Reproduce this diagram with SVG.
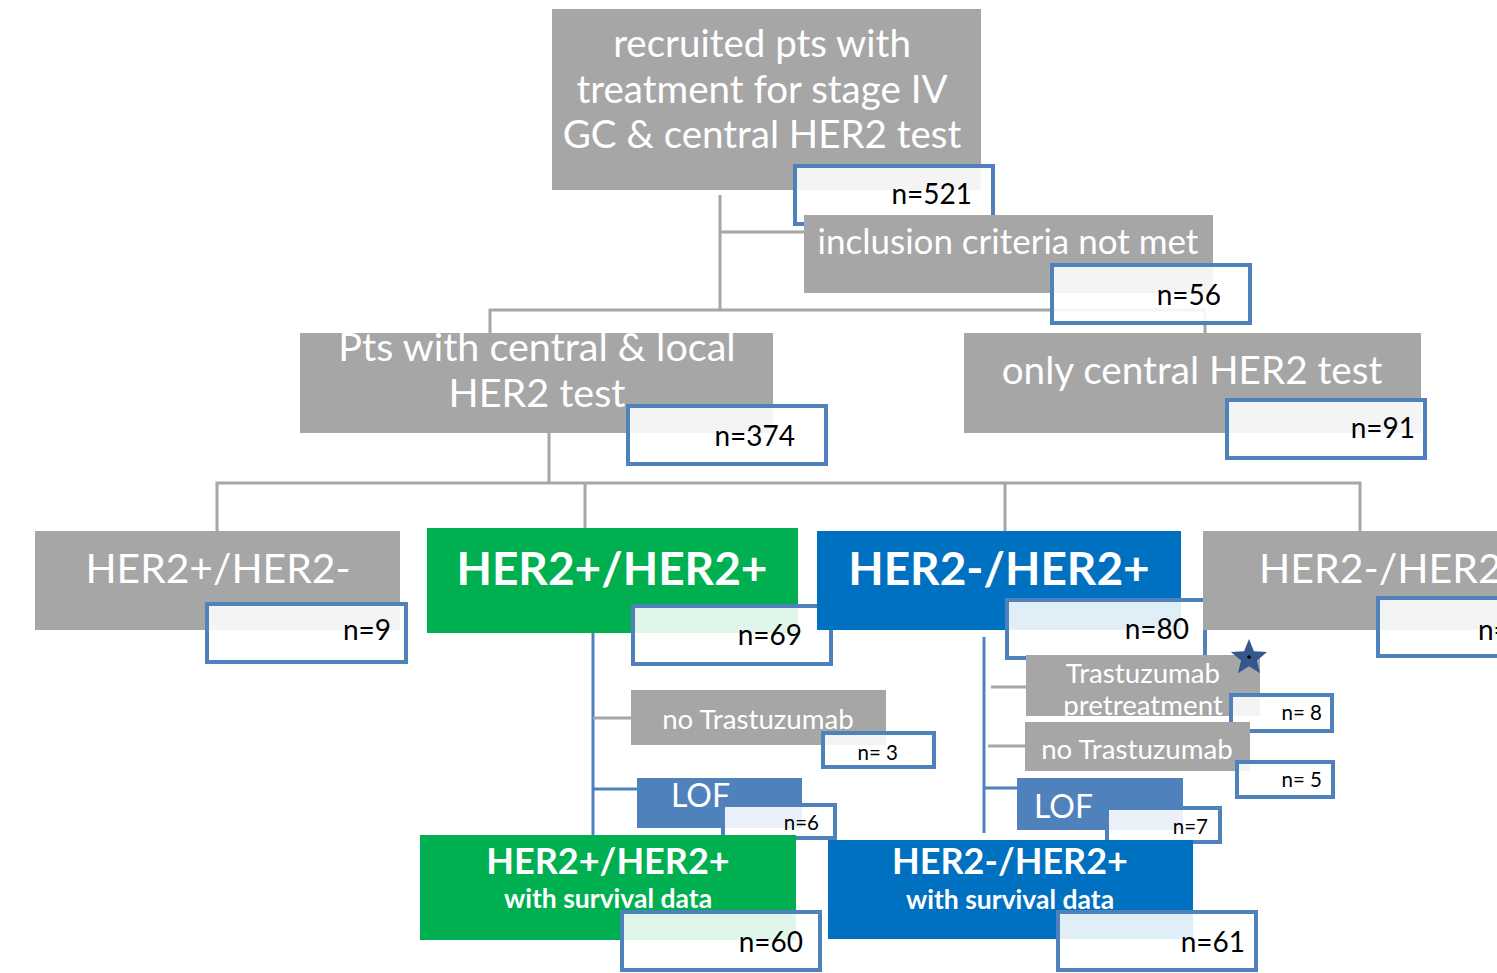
<svg xmlns="http://www.w3.org/2000/svg" width="1497" height="973" viewBox="0 0 1497 973">
<style>
.g{fill:#a6a6a6}
.gr{fill:#00b050}
.bl{fill:#0070c0}
.lb{fill:#4f81bd}
.nb{fill:#ffffff;fill-opacity:0.88;stroke:#4f81bd;stroke-width:4}
.t{font-family:Lato,"Liberation Sans",sans-serif;fill:#ffffff;text-anchor:middle}
.tb{font-family:Lato,"Liberation Sans",sans-serif;fill:#ffffff;text-anchor:middle;font-weight:bold}
.n{font-family:Lato,"Liberation Sans",sans-serif;fill:#000000;text-anchor:end}
.cg{stroke:#a6a6a6;stroke-width:3;fill:none}
.cb{stroke:#4f81bd;stroke-width:3;fill:none}
</style>
<g id="connectors">
<path class="cg" d="M720,195 V310 M720,232 H804 M490,333 V310 H1205 V333"/>
<path class="cg" d="M549,433 V483 M217,531 V483 H1360 V531 M585,483 V528 M1005,483 V531"/>
<path class="cb" d="M593,633 V835 M593,789 H637 M984,637 V833 M984,788 H1017"/>
<path class="cg" d="M593,718 H631 M991,687 H1026 M988,746 H1025"/>
</g>
<g id="recruited">
<rect class="g" x="552" y="9" width="429" height="181"/>
<text class="t" font-size="38.5"><tspan x="762" y="57">recruited pts with</tspan><tspan x="762" y="103">treatment for stage IV</tspan><tspan x="762" y="148">GC &amp; central HER2 test</tspan></text>
<rect class="nb" x="795" y="166" width="198" height="58"/>
<text class="n" x="972" y="204" font-size="28">n=521</text>
</g>
<g id="excluded">
<rect class="g" x="804" y="215" width="409" height="78"/>
<text class="t" x="1008" y="254" font-size="35">inclusion criteria not met</text>
<rect class="nb" x="1052" y="265" width="198" height="58"/>
<text class="n" x="1221" y="305" font-size="28">n=56</text>
</g>
<g id="central-local">
<rect class="g" x="300" y="333" width="473" height="100"/>
<text class="t" font-size="39.5"><tspan x="537" y="361">Pts with central &amp; local</tspan><tspan x="537" y="407">HER2 test</tspan></text>
<rect class="nb" x="628" y="406" width="198" height="58"/>
<text class="n" x="795" y="446" font-size="28">n=374</text>
</g>
<g id="central-only">
<rect class="g" x="964" y="333" width="457" height="100"/>
<text class="t" x="1192" y="384" font-size="38.7">only central HER2 test</text>
<rect class="nb" x="1227" y="400" width="198" height="58"/>
<text class="n" x="1415" y="438" font-size="28">n=91</text>
</g>
<g id="pos-neg">
<rect class="g" x="35" y="531" width="365" height="99"/>
<text class="t" x="218" y="583" font-size="40.8">HER2+/HER2-</text>
<rect class="nb" x="207" y="604" width="199" height="58"/>
<text class="n" x="391" y="640" font-size="28">n=9</text>
</g>
<g id="pos-pos">
<rect class="gr" x="427" y="528" width="371" height="105"/>
<text class="tb" x="612" y="585" font-size="46">HER2+/HER2+</text>
<rect class="nb" x="633" y="606" width="198" height="58"/>
<text class="n" x="802" y="645" font-size="28">n=69</text>
</g>
<g id="neg-pos">
<rect class="bl" x="817" y="531" width="364" height="99"/>
<text class="tb" x="999" y="585" font-size="46">HER2-/HER2+</text>
<rect class="nb" x="1007" y="600" width="198" height="58"/>
<text class="n" x="1189" y="639" font-size="28">n=80</text>
</g>
<g id="neg-neg">
<rect class="g" x="1203" y="531" width="300" height="99"/>
<text class="t" x="1259" y="583" font-size="41" style="text-anchor:start">HER2-/HER2-</text>
<rect class="nb" x="1378" y="598" width="130" height="58"/>
<text x="1478" y="640" font-size="28" font-family="Lato,'Liberation Sans',sans-serif">n=</text>
</g>
<g id="pp-notrast">
<rect class="g" x="631" y="690" width="255" height="55"/>
<text class="t" x="758" y="729" font-size="27.7">no Trastuzumab</text>
<rect class="nb" x="823" y="733" width="111" height="34"/>
<text class="n" x="898" y="760" font-size="20.5">n= 3</text>
</g>
<g id="pp-lof">
<rect class="lb" x="637" y="778" width="165" height="50"/>
<text class="t" x="671" y="807" font-size="32" style="text-anchor:start">LOF</text>
<rect class="nb" x="723" y="805" width="112" height="33"/>
<text class="n" x="819" y="830" font-size="20.5">n=6</text>
</g>
<g id="pp-survival">
<rect class="gr" x="420" y="835" width="376" height="105"/>
<text class="tb" x="608" y="874" font-size="36">HER2+/HER2+</text>
<text class="tb" x="608" y="908" font-size="26.5">with survival data</text>
<rect class="nb" x="622" y="912" width="198" height="58"/>
<text class="n" x="803" y="952" font-size="28">n=60</text>
</g>
<g id="np-pretreat">
<rect class="g" x="1026" y="655" width="234" height="61"/>
<text class="t" font-size="27.7"><tspan x="1143" y="683">Trastuzumab</tspan><tspan x="1143" y="715">pretreatment</tspan></text>
<rect class="nb" x="1231" y="695" width="101" height="36"/>
<text class="n" x="1322" y="720" font-size="20.5">n= 8</text>
<polygon points="1249,639 1253.9,651.3 1267.1,652.1 1256.9,660.5 1260.1,673.3 1249,666.2 1237.9,673.3 1241.1,660.5 1230.9,652.1 1244.1,651.3" fill="#34578e"/>
<circle cx="1249" cy="657" r="1.8" fill="#000"/>
</g>
<g id="np-notrast">
<rect class="g" x="1025" y="722" width="225" height="49"/>
<text class="t" x="1137" y="759" font-size="27.7">no Trastuzumab</text>
<rect class="nb" x="1237" y="762" width="96" height="35"/>
<text class="n" x="1322" y="787" font-size="20.5">n= 5</text>
</g>
<g id="np-lof">
<rect class="lb" x="1017" y="778" width="166" height="52"/>
<text class="t" x="1034" y="818" font-size="32" style="text-anchor:start">LOF</text>
<rect class="nb" x="1107" y="808" width="113" height="34"/>
<text class="n" x="1208" y="834" font-size="20.5">n=7</text>
</g>
<g id="np-survival">
<rect class="bl" x="828" y="840" width="365" height="99"/>
<text class="tb" x="1010" y="874" font-size="36">HER2-/HER2+</text>
<text class="tb" x="1010" y="909" font-size="26.5">with survival data</text>
<rect class="nb" x="1058" y="912" width="198" height="58"/>
<text class="n" x="1245" y="952" font-size="28">n=61</text>
</g>
</svg>
